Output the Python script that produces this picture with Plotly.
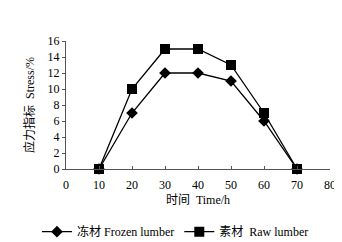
import plotly.graph_objects as go

time_h = [10, 20, 30, 40, 50, 60, 70]
frozen = [0, 7, 12, 12, 11, 6, 0]
raw = [0, 10, 15, 15, 13, 7, 0]
x_ticks = [0, 10, 20, 30, 40, 50, 60, 70, 80]
y_ticks = [0, 2, 4, 6, 8, 10, 12, 14, 16]

serif = "Liberation Serif, Noto Sans CJK SC, serif"

fig = go.Figure()
fig.add_trace(go.Scatter(x=time_h, y=frozen, mode="lines+markers", name="冻材 Frozen lumber",
                         line=dict(color="black", width=1.3),
                         marker=dict(symbol="diamond", size=9, color="black"),
                         cliponaxis=False))
fig.add_trace(go.Scatter(x=time_h, y=raw, mode="lines+markers", name="素材  Raw lumber",
                         line=dict(color="black", width=1.3),
                         marker=dict(symbol="square", size=10, color="black"),
                         cliponaxis=False))

fig.update_layout(
    width=342, height=242,
    margin=dict(l=58, r=20, t=33, b=81, autoexpand=False),
    paper_bgcolor="white", plot_bgcolor="white",
    font=dict(family=serif, size=12, color="black"),
    showlegend=True,
    legend=dict(orientation="h", x=-0.11, xanchor="left",
                y=-0.49, yanchor="middle",
                font=dict(size=12), itemwidth=30,
                tracegroupgap=0, bgcolor="rgba(0,0,0,0)"),
    xaxis=dict(range=[0, 80], tickvals=x_ticks, showgrid=False, zeroline=False,
               showline=True, linecolor="#555", linewidth=1,
               ticks="inside", ticklen=3, tickcolor="#555", ticklabelstandoff=5,
               title=dict(text="时间  Time/h", standoff=4, font=dict(size=12))),
    yaxis=dict(range=[0, 16], tickvals=y_ticks, showgrid=False, zeroline=False,
               showline=True, linecolor="#555", linewidth=1,
               ticks="outside", ticklen=3, tickcolor="#555",
               title=dict(text="应力指标  Stress/%", standoff=10, font=dict(size=12))),
)

fig.write_html("out.html")
